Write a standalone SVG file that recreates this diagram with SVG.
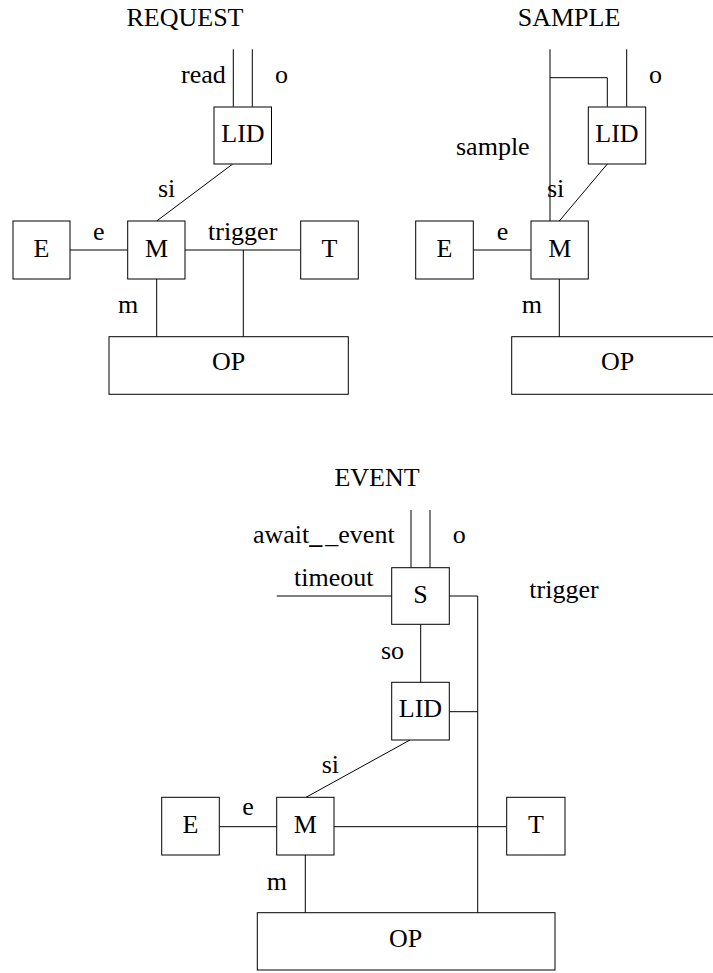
<svg xmlns="http://www.w3.org/2000/svg" width="713" height="973" viewBox="0 0 713 973">
<style>
.box{fill:#fff;stroke:#000;stroke-width:1}
.ln{fill:none;stroke:#000;stroke-width:1}
text{font-family:"Liberation Serif","Times New Roman",serif;font-size:26px;fill:#000}
.c{text-anchor:middle}
</style>
<rect width="713" height="973" fill="#fff"/>
<g id="connectors">
<!-- REQUEST -->
<line class="ln" x1="233.3" y1="49.3" x2="233.3" y2="106.7"/>
<line class="ln" x1="252.3" y1="49.3" x2="252.3" y2="106.7"/>
<line class="ln" x1="232.7" y1="164" x2="156.7" y2="221"/>
<line class="ln" x1="70" y1="250" x2="127.7" y2="250"/>
<line class="ln" x1="185" y1="250" x2="300.7" y2="250"/>
<line class="ln" x1="243.3" y1="250" x2="243.3" y2="336.7"/>
<line class="ln" x1="156.7" y1="279" x2="156.7" y2="336.7"/>
<!-- SAMPLE -->
<line class="ln" x1="550" y1="49.3" x2="550" y2="221"/>
<polyline class="ln" points="550,77.7 607.3,77.7 607.3,106.7"/>
<line class="ln" x1="626.7" y1="49.3" x2="626.7" y2="106.7"/>
<line class="ln" x1="607.3" y1="164" x2="559.3" y2="221"/>
<line class="ln" x1="473.3" y1="250" x2="531" y2="250"/>
<line class="ln" x1="559.3" y1="279" x2="559.3" y2="336.7"/>
<!-- EVENT -->
<line class="ln" x1="411" y1="510" x2="411" y2="567.7"/>
<line class="ln" x1="430" y1="510" x2="430" y2="567.7"/>
<line class="ln" x1="276.7" y1="596" x2="391.7" y2="596"/>
<polyline class="ln" points="449.3,596 477.7,596 477.7,912.7"/>
<line class="ln" x1="449.3" y1="711.7" x2="477.7" y2="711.7"/>
<line class="ln" x1="420.7" y1="624.3" x2="420.7" y2="682.3"/>
<line class="ln" x1="410" y1="740" x2="306" y2="797.3"/>
<line class="ln" x1="219.3" y1="826.7" x2="276.7" y2="826.7"/>
<line class="ln" x1="334" y1="826.7" x2="506.7" y2="826.7"/>
<line class="ln" x1="305.3" y1="855" x2="305.3" y2="912.7"/>
</g>
<g id="labels">
<text class="c" x="185" y="26">REQUEST</text>
<text x="181" y="83">read</text>
<text x="275" y="83">o</text>
<text x="158" y="197">si</text>
<text x="93" y="240">e</text>
<text x="208" y="240">trigger</text>
<text x="118" y="313">m</text>
<text class="c" x="569" y="26">SAMPLE</text>
<text x="649" y="83">o</text>
<text x="456" y="155">sample</text>
<text x="547" y="197">si</text>
<text x="496.7" y="240">e</text>
<text x="521.7" y="313">m</text>
<text class="c" x="377" y="486">EVENT</text>
<text x="253" y="543">await<tspan font-weight="bold">_</tspan><tspan dx="3">_event</tspan></text>
<text x="452.7" y="543">o</text>
<text x="294" y="586">timeout</text>
<text x="529.3" y="598">trigger</text>
<text x="381" y="659">so</text>
<text x="321.7" y="773">si</text>
<text x="242.3" y="815">e</text>
<text x="266.7" y="890">m</text>
</g>
<g id="req-LID"><rect class="box" x="214" y="107" width="57.5" height="57"/><text class="c" x="243" y="142">LID</text></g>
<g id="req-E"><rect class="box" x="13" y="221" width="57" height="58"/><text class="c" x="41.5" y="256.5">E</text></g>
<g id="req-M"><rect class="box" x="127.7" y="221" width="57.3" height="58"/><text class="c" x="156.5" y="256.5">M</text></g>
<g id="req-T"><rect class="box" x="300.7" y="221" width="57.6" height="58"/><text class="c" x="329.5" y="256.5">T</text></g>
<g id="req-OP"><rect class="box" x="109" y="336.7" width="239.3" height="57.6"/><text class="c" x="228.5" y="370">OP</text></g>
<g id="smp-LID"><rect class="box" x="588.3" y="107" width="57.4" height="57"/><text class="c" x="617" y="142">LID</text></g>
<g id="smp-E"><rect class="box" x="415.7" y="221" width="57.6" height="58"/><text class="c" x="444.5" y="256.5">E</text></g>
<g id="smp-M"><rect class="box" x="531" y="221" width="57.3" height="58"/><text class="c" x="559.7" y="256.5">M</text></g>
<g id="smp-OP"><rect class="box" x="511.7" y="336.7" width="240" height="57.6"/><text class="c" x="617.7" y="370">OP</text></g>
<g id="evt-S"><rect class="box" x="391.7" y="567.7" width="57.6" height="56.6"/><text class="c" x="420.5" y="602.5">S</text></g>
<g id="evt-LID"><rect class="box" x="391.7" y="682.3" width="57.6" height="57.7"/><text class="c" x="420.5" y="717.3">LID</text></g>
<g id="evt-E"><rect class="box" x="161.7" y="797.3" width="57.6" height="57.7"/><text class="c" x="190.5" y="833">E</text></g>
<g id="evt-M"><rect class="box" x="276.7" y="797.3" width="57.3" height="57.7"/><text class="c" x="305.3" y="833">M</text></g>
<g id="evt-T"><rect class="box" x="506.7" y="797.3" width="58.3" height="57.7"/><text class="c" x="536" y="833">T</text></g>
<g id="evt-OP"><rect class="box" x="257.3" y="912.7" width="297.7" height="57.3"/><text class="c" x="405.7" y="946.7">OP</text></g>
</svg>
